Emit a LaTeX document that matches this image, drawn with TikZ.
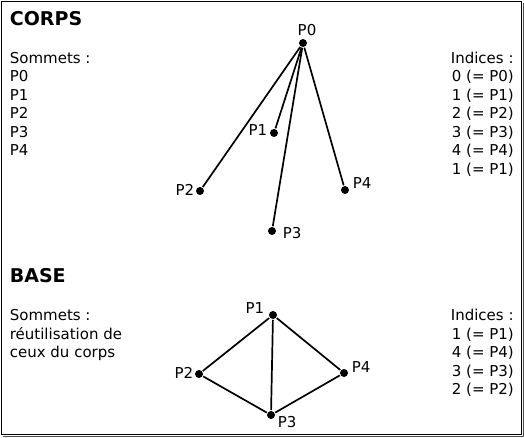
\documentclass[tikz,border=0pt]{standalone}
\usepackage{fontspec}
\setmainfont{DejaVu Sans}
\begin{document}
\begin{tikzpicture}[x=1pt,y=-1pt,line width=1.7pt,
	txt/.style={anchor=base west,inner sep=0pt,font=\fontsize{15}{18}\selectfont},
	lbl/.style={inner sep=0pt,font=\fontsize{15}{18}\selectfont},
	titre/.style={anchor=base west,inner sep=0pt,font=\bfseries\fontsize{19}{22}\selectfont},
	pt/.style={circle,fill,inner sep=0pt,minimum size=8pt}]
	\useasboundingbox (0,0) rectangle (524,437);
	\draw[line width=1pt] (1,1) rectangle (521,434);
	\draw[line width=1pt,black!70] (523,3)--(523,436)--(3,436);
	
	%corps
	\node[titre] (tcorps) at (9,25)  {CORPS};
	\node[txt] (sc) at (9,63)   {Sommets :};
	\node[txt] (sc0) at (9,81.5) {P0};
	\node[txt] (sc1) at (9,100) {P1};
	\node[txt] (sc2) at (9,118.5) {P2};
	\node[txt] (sc3) at (9,137) {P3};
	\node[txt] (sc4) at (9,155.5) {P4};
	
	\node[txt] (ic) at (450,63)   {Indices :};
	\node[txt] (ic0) at (451,81.5) {0 (= P0)};
	\node[txt] (ic1) at (451,100) {1 (= P1)};
	\node[txt] (ic2) at (451,118.5) {2 (= P2)};
	\node[txt] (ic3) at (451,137) {3 (= P3)};
	\node[txt] (ic4) at (451,155.5) {4 (= P4)};
	\node[txt] (ic5) at (451,174) {1 (= P1)};
	
	\node[pt] (c0) at (303,43)  {};
	\node[pt] (c1) at (274,133) {};
	\node[pt] (c2) at (200,191) {};
	\node[pt] (c3) at (272,231) {};
	\node[pt] (c4) at (345,190) {};
	\node[lbl,anchor=base] (lc0) at (307,35) {P0};
	\node[lbl,anchor=base east] (lc1) at (268,135) {P1};
	\node[lbl,anchor=base east] (lc2) at (195,195) {P2};
	\node[lbl,anchor=base west] (lc3) at (282,238) {P3};
	\node[lbl,anchor=base west] (lc4) at (352,188) {P4};
	
	\draw (c0)--(c1);		%P0--P1
	\draw (c0)--(c2);		%P0--P2
	\draw (c0)--(c3);		%P0--P3
	\draw (c0)--(c4);		%P0--P4
	
	%base
	\node[titre] (tbase) at (9,282) {BASE};
	\node[txt] (sb) at (9,320.5) {Sommets :};
	\node[txt] (sb1) at (9,339) {réutilisation de};
	\node[txt] (sb2) at (9,357.5) {ceux du corps};
	
	\node[txt] (ib) at (450,320.5) {Indices :};
	\node[txt] (ib1) at (451,339) {1 (= P1)};
	\node[txt] (ib2) at (451,357.5) {4 (= P4)};
	\node[txt] (ib3) at (451,376) {3 (= P3)};
	\node[txt] (ib4) at (451,394.5) {2 (= P2)};
	
	\node[pt] (b1) at (273,315) {};
	\node[pt] (b2) at (199,374) {};
	\node[pt] (b3) at (271,415) {};
	\node[pt] (b4) at (344,373) {};
	\node[lbl,anchor=base east] (lb1) at (265,313) {P1};
	\node[lbl,anchor=base east] (lb2) at (194,378) {P2};
	\node[lbl,anchor=base west] (lb3) at (277,427) {P3};
	\node[lbl,anchor=base west] (lb4) at (351,372) {P4};
	
	\draw (b1)--(b2)--(b3)--(b4)--(b1);	%contour
	\draw (b1)--(b3);			%P1--P3
\end{tikzpicture}
\end{document}
